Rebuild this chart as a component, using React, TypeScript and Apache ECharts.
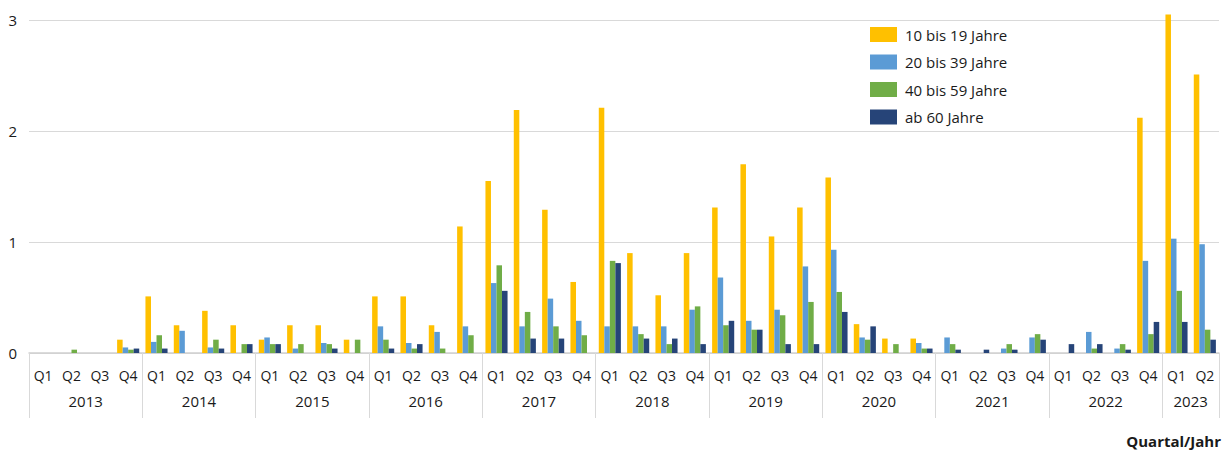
import React, { useEffect, useRef } from "react";
import * as echarts from "echarts";

const quarters = [
  "Q1","Q2","Q3","Q4","Q1","Q2","Q3","Q4","Q1","Q2","Q3","Q4","Q1","Q2","Q3","Q4",
  "Q1","Q2","Q3","Q4","Q1","Q2","Q3","Q4","Q1","Q2","Q3","Q4","Q1","Q2","Q3","Q4",
  "Q1","Q2","Q3","Q4","Q1","Q2","Q3","Q4","Q1","Q2",
];
const years = ["2013","2014","2015","2016","2017","2018","2019","2020","2021","2022","2023"];
const yearCenters = [2, 6, 10, 14, 18, 22, 26, 30, 34, 38, 41];
const yearBoundaries = [0, 4, 8, 12, 16, 20, 24, 28, 32, 36, 40, 42];

const age10to19 = [
  0, 0, 0, 0.12,
  0.51, 0.25, 0.38, 0.25,
  0.12, 0.25, 0.25, 0.12,
  0.51, 0.51, 0.25, 1.14,
  1.55, 2.19, 1.29, 0.64,
  2.21, 0.9, 0.52, 0.9,
  1.31, 1.7, 1.05, 1.31,
  1.58, 0.26, 0.13, 0.13,
  0, 0, 0, 0,
  0, 0, 0, 2.12,
  3.05, 2.51,
];
const age20to39 = [
  0, 0, 0, 0.05,
  0.1, 0.2, 0.05, 0,
  0.14, 0.04, 0.09, 0,
  0.24, 0.09, 0.19, 0.24,
  0.63, 0.24, 0.49, 0.29,
  0.24, 0.24, 0.24, 0.39,
  0.68, 0.29, 0.39, 0.78,
  0.93, 0.14, 0, 0.09,
  0.14, 0, 0.04, 0.14,
  0, 0.19, 0.04, 0.83,
  1.03, 0.98,
];
const age40to59 = [
  0, 0.03, 0, 0.03,
  0.16, 0, 0.12, 0.08,
  0.08, 0.08, 0.08, 0.12,
  0.12, 0.04, 0.04, 0.16,
  0.79, 0.37, 0.24, 0.16,
  0.83, 0.17, 0.08, 0.42,
  0.25, 0.21, 0.34, 0.46,
  0.55, 0.12, 0.08, 0.04,
  0.08, 0, 0.08, 0.17,
  0, 0.04, 0.08, 0.17,
  0.56, 0.21,
];
const age60plus = [
  0, 0, 0, 0.04,
  0.04, 0, 0.04, 0.08,
  0.08, 0, 0.04, 0,
  0.04, 0.08, 0, 0,
  0.56, 0.13, 0.13, 0,
  0.81, 0.13, 0.13, 0.08,
  0.29, 0.21, 0.08, 0.08,
  0.37, 0.24, 0, 0.04,
  0.03, 0.03, 0.03, 0.12,
  0.08, 0.08, 0.03, 0.28,
  0.28, 0.12,
];

const seriesNames = ["10 bis 19 Jahre", "20 bis 39 Jahre", "40 bis 59 Jahre", "ab 60 Jahre"];
const seriesColors = ["#FFC000", "#5B9BD5", "#70AD47", "#264478"];
const seriesData = [age10to19, age20to39, age40to59, age60plus];
const yTicks = [0, 1, 2, 3];

const FONT = "'Open Sans', 'Noto Sans', sans-serif";

export default function App() {
  const ref = useRef<HTMLDivElement>(null);
  useEffect(() => {
    if (!ref.current) return;
    const chart = echarts.init(ref.current, undefined, { renderer: "svg" });
    chart.setOption({
      animation: false,
      textStyle: { fontFamily: FONT },
      grid: { left: 29, right: 9, top: 20, bottom: 102, containLabel: false },
      legend: {
        orient: "vertical",
        left: 870,
        top: 27,
        padding: 0,
        itemWidth: 27,
        itemHeight: 15,
        itemGap: 12.5,
        icon: "rect",
        textStyle: { fontFamily: FONT, fontSize: 15, color: "#1a1a1a", padding: [0, 0, 0, 3] },
        data: seriesNames,
      },
      xAxis: [
        {
          type: "category",
          data: quarters,
          position: "bottom",
          axisLine: { show: true, lineStyle: { color: "#d0d0d0", width: 1.5 } },
          axisTick: { show: false },
          axisLabel: { interval: 0, margin: 15, fontSize: 14, color: "#1a1a1a", fontFamily: FONT },
        },
        {
          type: "value",
          min: 0,
          max: 42,
          position: "bottom",
          axisLine: { show: false },
          splitLine: { show: false },
          axisTick: {
            show: true,
            customValues: yearBoundaries,
            length: 65,
            lineStyle: { color: "#d9d9d9", width: 1 },
          },
          axisLabel: {
            show: true,
            customValues: yearCenters,
            margin: 40,
            fontSize: 15,
            color: "#1a1a1a",
            fontFamily: FONT,
            formatter: (v: number) => {
              const i = yearCenters.indexOf(Math.round(v));
              return i >= 0 ? years[i] : "";
            },
          },
        },
      ],
      yAxis: {
        type: "value",
        min: 0,
        max: 3,
        interval: 1,
        axisLine: { show: false },
        axisTick: { show: false },
        axisLabel: {
          margin: 12,
          fontSize: 15,
          color: "#1a1a1a",
          fontFamily: FONT,
          customValues: yTicks,
        },
        splitLine: { lineStyle: { color: "#d9d9d9", width: 1 } },
      },
      series: seriesNames.map((name, i) => ({
        name,
        type: "bar",
        xAxisIndex: 0,
        data: seriesData[i],
        barGap: "0%",
        barCategoryGap: "22%",
        clip: false,
        itemStyle: { color: seriesColors[i] },
      })),
      graphic: [
        {
          type: "text",
          right: 7,
          top: 433,
          style: {
            text: "Quartal/Jahr",
            font: `bold 15px ${FONT}`,
            fill: "#1a1a1a",
          },
        },
      ],
    });
    return () => chart.dispose();
  }, []);
  return (
    <div
      ref={ref}
      style={{ position: "fixed", left: 0, top: 0, width: 1228, height: 455, background: "#fff" }}
    />
  );
}
